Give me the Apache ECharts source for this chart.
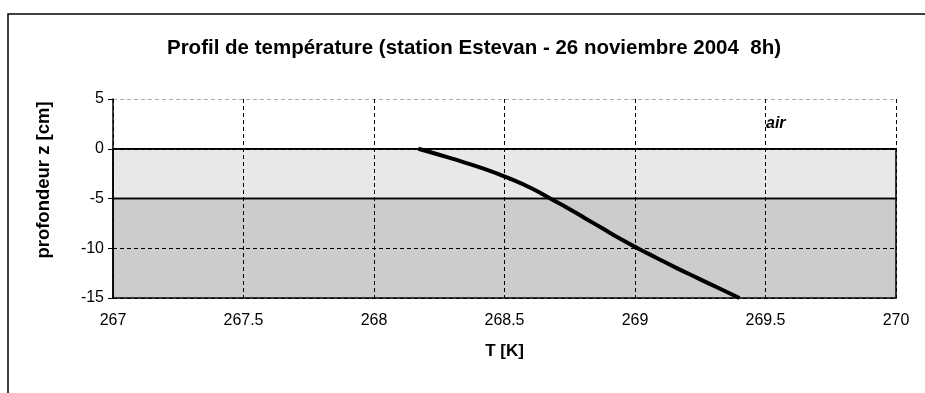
<!DOCTYPE html>
<html lang="fr">
<head>
    <meta charset="UTF-8">
    <title>Profil de température</title>
    <style>
        html, body { margin: 0; padding: 0; background: #fff; }
        #main { width: 925px; height: 393px; }
    </style>
</head>
<body>
    <div id="main"></div>
    <script src="https://cdn.jsdelivr.net/npm/echarts@6/dist/echarts.min.js"></script>
    <script>
        // profil
        var depth = [0, -1, -2, -3, -4, -5, -6, -7, -8, -9, -10, -11, -12, -13, -14, -15];
        var temp = [268.17, 268.30, 268.42, 268.52, 268.605, 268.675, 268.745, 268.81, 268.875, 268.94, 269.01, 269.085, 269.16, 269.24, 269.32, 269.40];
        var xTicks = [267, 267.5, 268, 268.5, 269, 269.5, 270];
        var yTicks = [-15, -10, -5, 0, 5];
        var layers = [[0, -5], [-5, -15]];

        var points = depth.map(function (z, i) { return [temp[i], z]; });

        var font = 'Liberation Sans, Arial, sans-serif';
        var chart = echarts.init(document.getElementById('main'));
        var option = {
            animation: false,
            backgroundColor: '#fff',
            title: {
                text: 'Profil de température (station Estevan - 26 noviembre 2004  8h)',
                left: 469,
                textAlign: 'center',
                top: 33,
                textStyle: { fontFamily: font, fontSize: 20.5, fontWeight: 'bold', color: '#000' }
            },
            grid: { left: 113, right: 29, top: 99, bottom: 95 },
            xAxis: {
                type: 'value',
                min: xTicks[0],
                max: xTicks[xTicks.length - 1],
                interval: 0.5,
                name: 'T [K]',
                nameLocation: 'middle',
                nameGap: 45,
                nameTextStyle: { fontFamily: font, fontSize: 17, fontWeight: 'bold', color: '#000' },
                axisLine: { show: true, lineStyle: { color: '#000', width: 1.5 } },
                axisTick: { show: false },
                axisLabel: { fontFamily: font, fontSize: 16, color: '#000', margin: 15 },
                splitLine: { show: true, lineStyle: { color: '#000', type: [4, 3], width: 1 } }
            },
            yAxis: {
                type: 'value',
                min: yTicks[0],
                max: yTicks[yTicks.length - 1],
                interval: 5,
                axisLine: { show: true, lineStyle: { color: '#000', width: 1.5 } },
                axisTick: { show: true, inside: false, length: 5, lineStyle: { color: '#000' } },
                axisLabel: { fontFamily: font, fontSize: 16, color: '#000', margin: 9 },
                splitLine: {
                    show: true,
                    lineStyle: { color: ['#000', '#000', '#000', '#000', '#aaa'], type: [4, 3], width: 1 }
                }
            },
            graphic: [
                {
                    type: 'rect',
                    shape: { x: 8, y: 14, width: 930, height: 400 },
                    style: { fill: 'none', stroke: '#000', lineWidth: 1.5 },
                    silent: true
                },
                {
                    type: 'text',
                    x: 44,
                    y: 180,
                    rotation: Math.PI / 2,
                    style: {
                        text: 'profondeur z [cm]',
                        font: 'bold 18.5px ' + font,
                        fill: '#000',
                        align: 'center',
                        verticalAlign: 'middle'
                    }
                },
                {
                    type: 'text',
                    left: 766,
                    top: 116,
                    style: { text: 'air', font: 'italic bold 16px ' + font, fill: '#000' }
                }
            ],
            series: [
                {
                    type: 'line',
                    data: points,
                    smooth: true,
                    showSymbol: false,
                    lineStyle: { color: '#000', width: 4 },
                    markArea: {
                        silent: true,
                        data: [
                            [{ yAxis: layers[0][0], itemStyle: { color: 'rgba(0,0,0,0.09)', borderColor: '#000', borderWidth: 1.5 } },
                             { yAxis: layers[0][1] }],
                            [{ yAxis: layers[1][0], itemStyle: { color: 'rgba(0,0,0,0.2)', borderColor: '#000', borderWidth: 1.5 } },
                             { yAxis: layers[1][1] }]
                        ]
                    }
                }
            ]
        };
        chart.setOption(option);
    </script>
</body>
</html>
